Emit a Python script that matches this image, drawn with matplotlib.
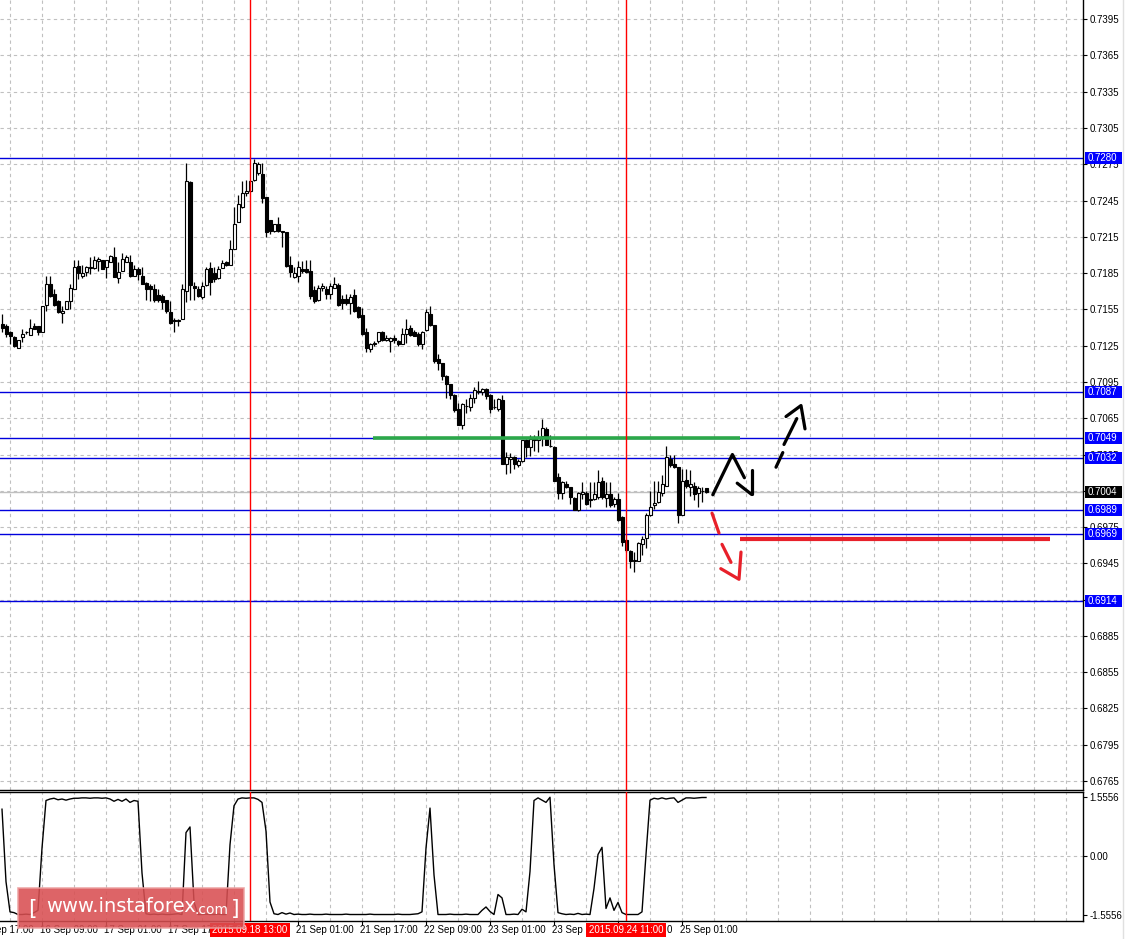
import matplotlib
matplotlib.use("Agg")
import matplotlib.pyplot as plt
import matplotlib.transforms as mtransforms
from matplotlib.patches import Rectangle

plt.rcParams['font.family'] = ['Liberation Sans', 'DejaVu Sans']

# ---------------- DATA (H1 candles, 15 Sep 23:00 .. 25 Sep 07:00) ----------------
opens = [
    .7143, .7141, .7136, .7132, .7123, .7132, .7136, .7134, .7141, .7141,
    .7136, .7159, .7176, .7168, .7162, .7152, .7155, .7162, .7172, .7191,
    .7183, .7186, .7189, .7189, .7195, .7196, .7190, .7194, .7198, .7181,
    .7187, .7194, .7194, .7183, .7188, .7183, .7177, .7174, .7172, .7167,
    .7166, .7163, .7153, .7146, .7145, .7147, .7170, .7260, .7174, .7172,
    .7165, .7175, .7189, .7185, .7181, .7189, .7194, .7192, .7205, .7227,
    .7240, .7251, .7253, .7262, .7268, .7267, .7248, .7229, .7220, .7226,
    .7220, .7219, .7192, .7182, .7183, .7188, .7188, .7187, .7171, .7163,
    .7173, .7172, .7168, .7173, .7175, .7164, .7164, .7160, .7167, .7157,
    .7150, .7136, .7122, .7126, .7129, .7136, .7130, .7129, .7131, .7129,
    .7126, .7135, .7140, .7136, .7135, .7126, .7138, .7151, .7142, .7114,
    .7111, .7100, .7093, .7084, .7073, .7059, .7075, .7074, .7082, .7087,
    .7087, .7089, .7084, .7074, .7073, .7080, .7027, .7031, .7033, .7026,
    .7030, .7047, .7041, .7047, .7047, .7050, .7056, .7042, .7041, .7016,
    .7003, .7011, .7008, .6999, .6989, .7002, .7003, .6997, .6998, .7000,
    .7013, .6999, .7002, .6994, .6998, .6983, .6964, .6955, .6947, .6947,
    .6961, .6966, .6985, .6993, .6996, .7003, .7009, .7031, .7027, .7025,
    .6985, .7014, .7008, .7009, .7003, .7005, .7007]
highs = [
    .7151, .7143, .7137, .7133, .7130, .7139, .7137, .7147, .7144, .7141,
    .7158, .7183, .7183, .7172, .7163, .7158, .7162, .7176, .7196, .7196,
    .7192, .7191, .7198, .7199, .7198, .7196, .7196, .7200, .7207, .7194,
    .7202, .7200, .7200, .7192, .7190, .7190, .7178, .7176, .7176, .7172,
    .7168, .7163, .7162, .7148, .7147, .7176, .7276, .7261, .7178, .7174,
    .7178, .7190, .7194, .7190, .7191, .7196, .7195, .7212, .7240, .7250,
    .7261, .7262, .7262, .7279, .7277, .7276, .7248, .7229, .7226, .7231,
    .7220, .7219, .7199, .7190, .7195, .7195, .7196, .7196, .7174, .7175,
    .7177, .7174, .7177, .7182, .7177, .7167, .7168, .7168, .7172, .7158,
    .7156, .7140, .7127, .7129, .7136, .7137, .7134, .7132, .7134, .7130,
    .7140, .7147, .7142, .7138, .7136, .7137, .7155, .7158, .7142, .7118,
    .7111, .7101, .7093, .7085, .7078, .7078, .7081, .7085, .7091, .7096,
    .7090, .7090, .7085, .7081, .7082, .7084, .7037, .7036, .7034, .7031,
    .7047, .7048, .7051, .7051, .7055, .7064, .7058, .7051, .7042, .7020,
    .7013, .7013, .7008, .7000, .7004, .7012, .7005, .7012, .7012, .7022,
    .7016, .7012, .7012, .7000, .7003, .6984, .6965, .6956, .6954, .6963,
    .6968, .6987, .7005, .7013, .7013, .7018, .7042, .7035, .7035, .7025,
    .7023, .7023, .7022, .7012, .7009, .7008, .7007]
lows = [
    .7136, .7132, .7126, .7124, .7123, .7128, .7135, .7134, .7139, .7134,
    .7136, .7154, .7165, .7158, .7152, .7144, .7155, .7155, .7172, .7180,
    .7181, .7183, .7184, .7188, .7187, .7188, .7181, .7194, .7182, .7177,
    .7187, .7194, .7182, .7183, .7179, .7176, .7163, .7162, .7161, .7161,
    .7155, .7152, .7143, .7136, .7141, .7147, .7161, .7163, .7163, .7165,
    .7164, .7174, .7167, .7178, .7180, .7189, .7191, .7192, .7205, .7227,
    .7239, .7249, .7252, .7261, .7266, .7243, .7215, .7217, .7219, .7219,
    .7207, .7190, .7182, .7181, .7178, .7185, .7185, .7164, .7160, .7162,
    .7170, .7164, .7164, .7173, .7158, .7155, .7159, .7151, .7153, .7148,
    .7134, .7120, .7120, .7125, .7127, .7129, .7129, .7120, .7127, .7125,
    .7126, .7127, .7133, .7133, .7125, .7122, .7137, .7141, .7111, .7105,
    .7097, .7082, .7081, .7070, .7059, .7056, .7069, .7071, .7078, .7085,
    .7084, .7081, .7069, .7073, .7071, .7027, .7019, .7020, .7023, .7025,
    .7029, .7033, .7034, .7038, .7037, .7042, .7043, .7041, .7013, .6998,
    .6998, .7007, .6994, .6989, .6988, .6998, .6993, .6992, .6997, .6998,
    .6998, .6992, .6992, .6992, .6980, .6959, .6954, .6941, .6938, .6947,
    .6952, .6958, .6984, .6990, .6995, .7001, .7009, .7025, .7024, .6978,
    .6985, .7007, .7001, .6997, .6992, .6996, .7003]
closes = [
    .7140, .7135, .7133, .7125, .7130, .7135, .7136, .7140, .7139, .7136,
    .7158, .7176, .7166, .7159, .7153, .7154, .7162, .7173, .7190, .7185,
    .7185, .7190, .7190, .7196, .7197, .7188, .7196, .7199, .7182, .7186,
    .7197, .7198, .7183, .7188, .7184, .7176, .7172, .7172, .7163, .7163,
    .7161, .7154, .7144, .7145, .7146, .7172, .7261, .7175, .7173, .7166,
    .7174, .7188, .7178, .7180, .7188, .7193, .7192, .7205, .7226, .7242,
    .7251, .7253, .7261, .7276, .7275, .7247, .7219, .7220, .7226, .7220,
    .7219, .7191, .7186, .7185, .7190, .7187, .7186, .7166, .7162, .7173,
    .7174, .7168, .7174, .7176, .7159, .7160, .7160, .7165, .7154, .7149,
    .7135, .7123, .7126, .7127, .7136, .7130, .7131, .7131, .7130, .7126,
    .7135, .7139, .7134, .7133, .7126, .7136, .7153, .7142, .7112, .7111,
    .7100, .7093, .7084, .7072, .7059, .7077, .7075, .7082, .7088, .7087,
    .7089, .7083, .7073, .7074, .7081, .7027, .7033, .7033, .7027, .7030,
    .7047, .7041, .7048, .7048, .7049, .7057, .7043, .7042, .7013, .7003,
    .7012, .7008, .7000, .6989, .7003, .7004, .6994, .6998, .7002, .7012,
    .7000, .7002, .6993, .6998, .6981, .6963, .6956, .6947, .6948, .6962,
    .6965, .6985, .6992, .6995, .7004, .7011, .7033, .7026, .7025, .6985,
    .7013, .7009, .7011, .7002, .7007, .7005, .7004]
indicator = [
    1.24, -0.68, -1.48, -1.50, -1.55, -1.55, -1.54, -1.55, -1.50, -1.44,
    0.21, 1.47, 1.51, 1.53, 1.49, 1.51, 1.48, 1.51, 1.53, 1.53,
    1.54, 1.54, 1.53, 1.54, 1.54, 1.53, 1.54, 1.51, 1.45, 1.50,
    1.45, 1.51, 1.42, 1.47, 1.45, -0.45, -1.53, -1.55, -1.54, -1.55,
    -1.54, -1.55, -1.55, -1.54, -1.53, -1.55, 0.62, 0.77, -1.22, -1.55,
    -1.55, -1.54, -1.55, -1.55, -1.54, -1.55, -1.55, 0.30, 1.33, 1.51,
    1.54, 1.53, 1.54, 1.54, 1.50, 1.42, 0.66, -1.22, -1.53, -1.55,
    -1.50, -1.54, -1.51, -1.55, -1.54, -1.55, -1.55, -1.54, -1.55, -1.55,
    -1.55, -1.54, -1.55, -1.55, -1.55, -1.55, -1.54, -1.55, -1.55, -1.55,
    -1.55, -1.55, -1.54, -1.55, -1.55, -1.55, -1.55, -1.55, -1.55, -1.54,
    -1.55, -1.55, -1.55, -1.54, -1.53, -1.48, 0.21, 1.27, -0.50, -1.55,
    -1.55, -1.55, -1.54, -1.55, -1.55, -1.55, -1.54, -1.55, -1.55, -1.55,
    -1.44, -1.35, -1.47, -1.55, -1.02, -1.11, -1.55, -1.55, -1.54, -1.55,
    -1.41, -1.48, -0.41, 1.47, 1.54, 1.48, 1.42, 1.556, -0.23, -1.50,
    -1.53, -1.55, -1.54, -1.55, -1.52, -1.55, -1.54, -1.55, -0.86, 0.04,
    0.23, -1.39, -1.11, -1.44, -1.23, -1.50, -1.55, -1.55, -1.55, -1.55,
    -1.48, 0.04, 1.48, 1.53, 1.51, 1.54, 1.51, 1.53, 1.54, 1.42,
    1.48, 1.54, 1.54, 1.53, 1.54, 1.55, 1.55]

# date axis: tick bars (every 16 hours) and the visible part of each label
date_tick_bars = [-6, 10, 26, 42, 58, 74, 90, 106, 122, 138, 154, 170]
date_tick_labels = ['15 Sep 17:00', '16 Sep 09:00', '17 Sep 01:00', '17 Sep 17',
                    '', '21 Sep 01:00', '21 Sep 17:00', '22 Sep 09:00',
                    '23 Sep 01:00', '23 Sep', '', '25 Sep 01:00']
hidden_tail_bar = 166.25          # last glyph of the covered "24 Sep 09:00" label
hidden_tail_text = '0'
marker_bars = [62, 156]
marker_labels = ['2015.09.18 13:00', '2015.09.24 11:00']

price_ticks = [round(0.6765 + 0.003 * k, 4) for k in range(22)]
levels = [0.7280, 0.7087, 0.7049, 0.7032, 0.6989, 0.6969, 0.6914]
level_labels = ['0.7280', '0.7087', '0.7049', '0.7032', '0.6989', '0.6969', '0.6914']
current_price = 0.7004
ind_ticks = [1.5556, 0.0, -1.5556]
ind_tick_labels = ['1.5556', '0.00', '-1.5556']

# hand-drawn annotations (bar index, price)
green_level = (92.75, 184.5, 0.7049)
red_level = (184.5, 262.0, 0.69654)
black_solid = [[(177.7, 0.70017), (182.6, 0.70350), (185.6, 0.70158)],
               [(183.8, 0.70113), (187.4, 0.70020)],
               [(187.4, 0.70224), (187.4, 0.70020)]]
black_dashed = [[(193.5, 0.70245), (195.2, 0.70366)],
                [(195.5, 0.70433), (198.7, 0.70647)],
                [(196.0, 0.70664), (199.75, 0.70755), (200.75, 0.70562)]]
red_dashed = [[(177.5, 0.69865), (179.25, 0.69700)],
              [(180.0, 0.69607), (182.25, 0.69458)],
              [(179.7, 0.69406), (184.25, 0.69318), (184.75, 0.69543)]]

# ---------------- LAYOUT ----------------
W, H = 1125, 939
fig = plt.figure(figsize=(W / 100, H / 100), dpi=100)
fig.patch.set_facecolor('white')

MAIN_BOTTOM = 789.5
IND_TOP = 791.5
IND_BOTTOM = 921.0
RIGHT = 1083.0
FS = 7.0

ax = fig.add_axes([0, 1 - MAIN_BOTTOM / H, RIGHT / W, MAIN_BOTTOM / H])
ax2 = fig.add_axes([0, 1 - IND_BOTTOM / H, RIGHT / W, (IND_BOTTOM - IND_TOP) / H])

XLIM = (-0.5, 270.25)
ax.set_xlim(*XLIM)
ax2.set_xlim(*XLIM)
ax.set_ylim(0.675797, 0.741086)
ax2.set_ylim(-1.722, 1.709)

grid_kw = dict(color='#c0c0c0', linestyle=(0, (3, 3)), linewidth=0.8, zorder=0)
vgrid = list(range(2, 270, 8))
for g in vgrid:
    ax.axvline(g, **grid_kw)
    ax2.axvline(g, **grid_kw)
for p in price_ticks:
    ax.axhline(p, **grid_kw)
ax2.axhline(0.0, **grid_kw)

# candles
for i, (o, h, l, c) in enumerate(zip(opens, highs, lows, closes)):
    ax.vlines(i, l, h, color='black', linewidth=0.9, zorder=2)
    bottom = min(o, c)
    height = max(abs(c - o), 0.00002)
    fc = 'white' if c >= o else 'black'
    ax.add_patch(Rectangle((i - 0.375, bottom), 0.75, height, facecolor=fc,
                           edgecolor='black', linewidth=0.8, zorder=3))

# levels
ax.axhline(current_price, color='#c0c0c0', linewidth=1.0, zorder=1)
for lv in levels:
    ax.axhline(lv, color='#0000dd', linewidth=1.0, zorder=1.5)

ax.plot([green_level[0], green_level[1]], [green_level[2]] * 2, color='#2ca84a',
        linewidth=2.6, solid_capstyle='butt', zorder=4)
ax.plot([red_level[0], red_level[1]], [red_level[2]] * 2, color='#e8202a',
        linewidth=3.0, solid_capstyle='butt', zorder=4)

for seg in black_solid + black_dashed:
    ax.plot([p[0] for p in seg], [p[1] for p in seg], color='black', linewidth=2.3,
            solid_capstyle='round', solid_joinstyle='round', zorder=6)
for seg in red_dashed:
    ax.plot([p[0] for p in seg], [p[1] for p in seg], color='#e8202a', linewidth=2.3,
            solid_capstyle='round', solid_joinstyle='round', zorder=6)

# red vertical markers
for b in marker_bars:
    ax.axvline(b, color='#ff0000', linewidth=1.0, zorder=5)
    ax2.axvline(b, color='#ff0000', linewidth=1.0, zorder=5)

# indicator
ax2.plot(range(len(indicator)), indicator, color='black', linewidth=1.0, zorder=3)

# spines / ticks
for a in (ax, ax2):
    a.spines['left'].set_visible(False)
    for s in ('right', 'bottom', 'top'):
        a.spines[s].set_color('black')
        a.spines[s].set_linewidth(1.0)
    a.set_facecolor('white')
ax.spines['top'].set_visible(False)

ax.set_xticks([])
ax.yaxis.set_ticks_position('right')
ax.set_yticks(price_ticks)
ax.set_yticklabels(['%.4f' % p for p in price_ticks])
ax.tick_params(axis='y', direction='out', length=3, width=0.8, pad=1.5,
               labelsize=FS, colors='black')

ax2.yaxis.set_ticks_position('right')
ax2.set_yticks(ind_ticks)
ax2.set_yticklabels(ind_tick_labels)
ax2.tick_params(axis='y', direction='out', length=3, width=0.8, pad=1.5,
                labelsize=FS, colors='black')
ax2.set_xticks([b for b in date_tick_bars if b >= 0])
ax2.set_xticklabels([])
ax2.tick_params(axis='x', direction='out', length=3, width=0.8)

# level boxes on the price axis
trans_y = mtransforms.blended_transform_factory(ax.transAxes, ax.transData)
ppx = (0.741086 - 0.675797) / MAIN_BOTTOM  # price per pixel
for lv, lab in zip(levels, level_labels):
    ax.add_patch(Rectangle((1 + 2 / RIGHT, lv - 6 * ppx), 37 / RIGHT, 12 * ppx,
                           transform=trans_y, facecolor='#0000ff', edgecolor='none',
                           clip_on=False, zorder=7))
    ax.text(1 + 5 / RIGHT, lv, lab, transform=trans_y, color='white', fontsize=FS,
            va='center', ha='left', clip_on=False, zorder=8)
ax.add_patch(Rectangle((1 + 2 / RIGHT, current_price - 6 * ppx), 37 / RIGHT, 12 * ppx,
                       transform=trans_y, facecolor='black', edgecolor='none',
                       clip_on=False, zorder=7))
ax.text(1 + 5 / RIGHT, current_price, '%.4f' % current_price, transform=trans_y,
        color='white', fontsize=FS, va='center', ha='left', clip_on=False, zorder=8)

# date labels
trans_x = mtransforms.blended_transform_factory(ax2.transData, ax2.transAxes)
ylab = -(930 - IND_BOTTOM) / (IND_BOTTOM - IND_TOP)
for b, lab in zip(date_tick_bars, date_tick_labels):
    if lab:
        ax2.text(b - 0.5, ylab, lab, transform=trans_x, fontsize=FS, ha='left',
                 va='center', color='black', clip_on=False, zorder=5)
ax2.text(hidden_tail_bar, ylab, hidden_tail_text, transform=trans_x, fontsize=FS,
         ha='left', va='center', color='black', clip_on=False, zorder=5)
for b, lab in zip(marker_bars, marker_labels):
    ax2.text(b, ylab, lab, transform=trans_x, fontsize=FS, ha='center', va='center',
             color='white', clip_on=False, zorder=9,
             bbox=dict(boxstyle='square,pad=0.25', facecolor='#ff0000', edgecolor='none'))

# right edge line
fig.add_artist(plt.Line2D([1123 / W, 1123 / W], [0, 1], transform=fig.transFigure,
                          color='#e0e0e0', linewidth=1.0))

# watermark
fig.add_artist(Rectangle((18 / W, 1 - 928 / H), 226 / W, 40 / H, transform=fig.transFigure,
                         facecolor='#d94f52', edgecolor='#eca0a0', linewidth=1.2,
                         alpha=0.88, zorder=20))
fig.text(28 / W, 1 - 909 / H, '[', fontsize=16, color='white', va='center', ha='left',
         zorder=21, family='DejaVu Sans')
fig.text(46 / W, 1 - 907 / H, 'www.instaforex', fontsize=14, color='white',
         va='center', ha='left', zorder=21, family='DejaVu Sans')
fig.text(194 / W, 1 - 910 / H, '.com', fontsize=10, color='white', va='center',
         ha='left', zorder=21, family='DejaVu Sans')
fig.text(231 / W, 1 - 909 / H, ']', fontsize=16, color='white', va='center', ha='left',
         zorder=21, family='DejaVu Sans')

fig.savefig('out.png', dpi=100, facecolor='white')
